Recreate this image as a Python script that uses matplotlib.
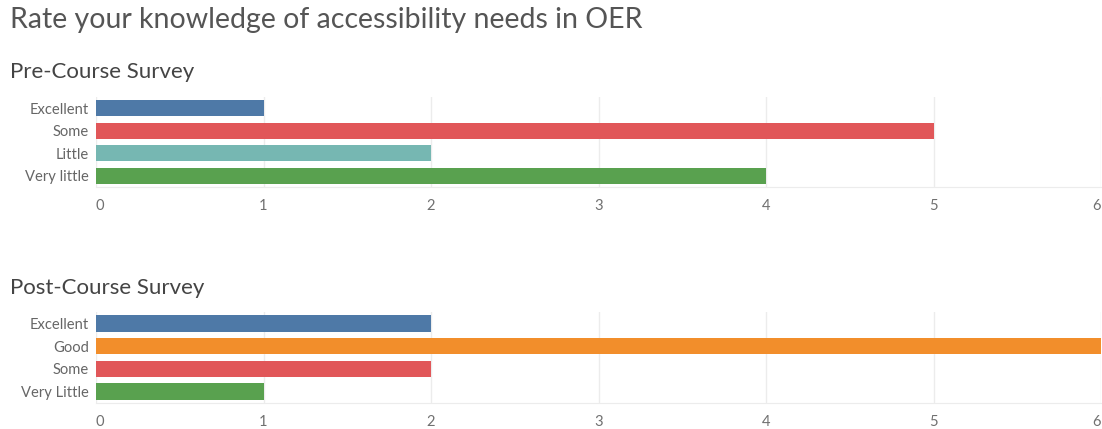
import matplotlib
matplotlib.use("Agg")
import matplotlib.pyplot as plt

plt.rcParams["font.family"] = ["Lato", "DejaVu Sans"]

TITLE = "Rate your knowledge of accessibility needs in OER"

PRE_TITLE = "Pre-Course Survey"
PRE_LABELS = ["Excellent", "Some", "Little", "Very little"]
PRE_VALUES = [1, 5, 2, 4]
PRE_COLORS = ["#4e79a7", "#e15759", "#76b7b2", "#59a14f"]

POST_TITLE = "Post-Course Survey"
POST_LABELS = ["Excellent", "Good", "Some", "Very Little"]
POST_VALUES = [2, 6, 2, 1]
POST_COLORS = ["#4e79a7", "#f28e2b", "#e15759", "#59a14f"]

X_TICKS = [0, 1, 2, 3, 4, 5, 6]

W, H = 1102, 429


def draw_panel(ax, labels, values, colors):
    ys = list(range(len(labels)))
    ax.barh(ys, values, height=0.72, color=colors, zorder=3)
    ax.set_xlim(0, 6)
    ax.set_ylim(len(labels) - 0.5, -0.5)
    ax.set_yticks(ys)
    ax.set_yticklabels(labels)
    ax.set_xticks(X_TICKS)
    ax.set_xticklabels([str(t) for t in X_TICKS])
    for x in X_TICKS:
        ax.axvline(x, color="#ececec", lw=1, zorder=1)
    for side in ("top", "right", "left"):
        ax.spines[side].set_visible(False)
    ax.spines["bottom"].set_color("#ececec")
    ax.tick_params(axis="y", length=0, pad=5, labelsize=10.6, labelcolor="#666666")
    ax.tick_params(axis="x", length=0, pad=9, labelsize=10.6, labelcolor="#707070")
    xt = ax.get_xticklabels()
    xt[0].set_ha("left")
    xt[-1].set_ha("right")
    ax.set_facecolor("white")


fig = plt.figure(figsize=(W / 100, H / 100), dpi=100)
fig.patch.set_facecolor("white")

left = 96 / W
width = (1101 - 96) / W

ax1 = fig.add_axes([left, 1 - 187 / H, width, 90 / H])
draw_panel(ax1, PRE_LABELS, PRE_VALUES, PRE_COLORS)

ax2 = fig.add_axes([left, 1 - 403 / H, width, 91 / H])
draw_panel(ax2, POST_LABELS, POST_VALUES, POST_COLORS)

fig.text(10 / W, 1 - 20 / H, TITLE, fontsize=20.5, color="#555555", va="center", ha="left")
fig.text(10 / W, 1 - 72 / H, PRE_TITLE, fontsize=16, color="#444444", va="center", ha="left")
fig.text(10 / W, 1 - 288 / H, POST_TITLE, fontsize=16, color="#444444", va="center", ha="left")

fig.savefig("out.png", dpi=100, facecolor="white")
